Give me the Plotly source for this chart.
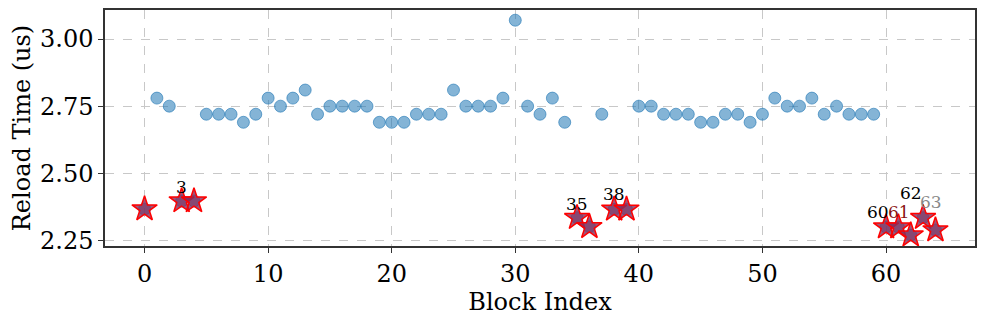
import plotly.graph_objects as go

# block index -> reload time (us)
block_idx = list(range(65))
reload_us = [
    2.367, 2.78, 2.75, 2.397, 2.397, 2.72, 2.72, 2.72, 2.69, 2.72,
    2.78, 2.75, 2.78, 2.81, 2.72, 2.75, 2.75, 2.75, 2.75, 2.69,
    2.69, 2.69, 2.72, 2.72, 2.72, 2.81, 2.75, 2.75, 2.75, 2.78,
    3.07, 2.75, 2.72, 2.78, 2.69, 2.335, 2.301, 2.72, 2.366, 2.366,
    2.75, 2.75, 2.72, 2.72, 2.72, 2.69, 2.69, 2.72, 2.72, 2.69,
    2.72, 2.78, 2.75, 2.75, 2.78, 2.72, 2.75, 2.72, 2.72, 2.72,
    2.30, 2.30, 2.27, 2.335, 2.289,
]
anomaly_idx = [0, 3, 4, 35, 36, 38, 39, 60, 61, 62, 63, 64]
label_idx = [3, 35, 38, 60, 61, 62, 63]
label_colors = ["black", "black", "black", "black", "#8b1414", "black", "#888888"]
label_shift = [(0, 14), (0, 14), (0, 15), (-8, 15), (1, 15), (0, 42), (8, 16)]

FONT = "DejaVu Serif, serif"

normal_x = [i for i in block_idx if i not in anomaly_idx]
normal_y = [reload_us[i] for i in normal_x]
anom_y = [reload_us[i] for i in anomaly_idx]

dot = dict(size=12, color="rgba(31,119,180,0.55)",
           line=dict(color="rgba(31,119,180,0.6)", width=1))

fig = go.Figure()
fig.add_trace(go.Scatter(x=normal_x, y=normal_y, mode="markers",
                         marker=dot, showlegend=False))
# blue dot underneath the anomaly stars
fig.add_trace(go.Scatter(x=anomaly_idx, y=anom_y, mode="markers",
                         marker=dot, showlegend=False))
fig.add_trace(go.Scatter(
    x=anomaly_idx, y=anom_y, mode="markers",
    marker=dict(symbol="star", size=19, color="rgba(135,45,90,0.8)",
                line=dict(color="red", width=1.5)),
    showlegend=False,
))

for i, c, (dx, dy) in zip(label_idx, label_colors, label_shift):
    fig.add_annotation(
        x=i, y=reload_us[i], text=str(i), showarrow=False,
        xshift=dx, yshift=dy, font=dict(family=FONT, size=17, color=c),
    )

axis_common = dict(
    showline=True, linecolor="#333333", linewidth=1.5, mirror=True,
    ticks="outside", ticklen=5, tickcolor="#333333",
    showgrid=True, gridcolor="#c8c8c8", griddash="dash", gridwidth=1,
    zeroline=False, automargin=False,
    tickfont=dict(family=FONT, size=24, color="black"),
)

# page body has an 8px margin, so margins are offset to land the plot box right
fig.update_layout(
    width=986, height=320,
    margin=dict(l=97, r=19, t=2, b=82),
    plot_bgcolor="white", paper_bgcolor="white",
    xaxis=dict(range=[-3.2, 67.2], tickvals=[0, 10, 20, 30, 40, 50, 60],
               title=dict(text="Block Index", font=dict(family=FONT, size=24, color="black"),
                          standoff=0),
               **axis_common),
    yaxis=dict(range=[2.2295, 3.108], tickvals=[2.25, 2.50, 2.75, 3.00],
               tickformat=".2f",
               title=dict(text="Reload Time (us)", font=dict(family=FONT, size=24, color="black"),
                          standoff=4),
               **axis_common),
)

fig.write_html("out.html")
